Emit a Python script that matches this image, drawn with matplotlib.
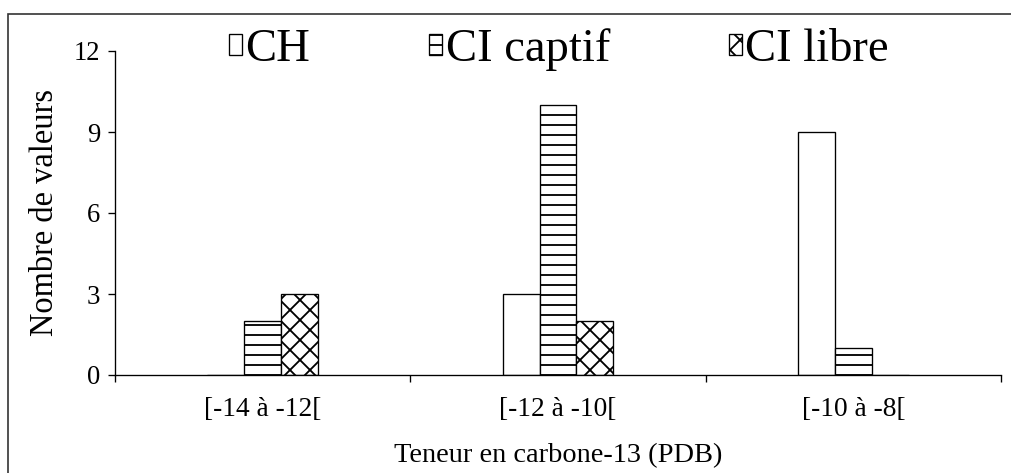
import numpy as np
import matplotlib
matplotlib.use("Agg")
import matplotlib.pyplot as plt
from matplotlib.patches import Rectangle

categories = ["[-14 à -12[", "[-12 à -10[", "[-10 à -8["]
series_names = ["CH", "CI captif", "CI libre"]
ch = [0, 3, 9]
ci_captif = [2, 10, 1]
ci_libre = [3, 2, 0]
y_ticks = [0, 3, 6, 9, 12]

plt.rcParams["font.family"] = ["Liberation Serif", "DejaVu Serif"]
plt.rcParams["hatch.linewidth"] = 1.1

DPI = 120
fig = plt.figure(figsize=(1011 / DPI, 473 / DPI), dpi=DPI)
ax = fig.add_axes([115 / 1011, 1 - 375 / 473, 886 / 1011, 324 / 473])

x = np.arange(len(categories))
width = 0.125
styles = [
    dict(facecolor="white", hatch=None),
    dict(facecolor="white", hatch="--"),
    dict(facecolor="white", hatch="xx"),
]
for i, (name, vals) in enumerate(zip(series_names, [ch, ci_captif, ci_libre])):
    ax.bar(x + (i - 1) * width, vals, width, label=name, edgecolor="black",
           linewidth=0.8, **styles[i])

ax.set_xlim(-0.5, len(categories) - 0.5)
ax.set_ylim(0, 12)
ax.set_yticks(y_ticks)
ax.set_xticks(x)
ax.set_xticklabels(categories)
ax.set_xticks(np.arange(len(categories) + 1) - 0.5, minor=True)
ax.tick_params(axis="x", which="major", length=0, pad=13, labelsize=16.5)
ax.tick_params(axis="x", which="minor", length=4, width=0.8, direction="out")
ax.tick_params(axis="y", length=4, width=0.8, pad=5, labelsize=16)
ax.spines["top"].set_visible(False)
ax.spines["right"].set_visible(False)
for s in ["left", "bottom"]:
    ax.spines[s].set_linewidth(0.8)

ax.set_ylabel("Nombre de valeurs", fontsize=19.5, labelpad=8)
ax.set_xlabel("Teneur en carbone-13 (PDB)", fontsize=17, labelpad=13)

fig.legend(loc="center", bbox_to_anchor=(0.553, 0.895), ncol=3, frameon=False,
           fontsize=28, handlelength=0.28, handleheight=0.32, handletextpad=0.07,
           columnspacing=2.55, borderpad=0)

# outer chart frame (right and bottom edges cropped in the reference)
fig.patches.append(Rectangle((8 / 1011, -0.05), 1.2, 1 - 14 / 473 + 0.05,
                             transform=fig.transFigure, fill=False,
                             edgecolor="#333333", linewidth=1.0))

fig.savefig("out.png", dpi=DPI)
